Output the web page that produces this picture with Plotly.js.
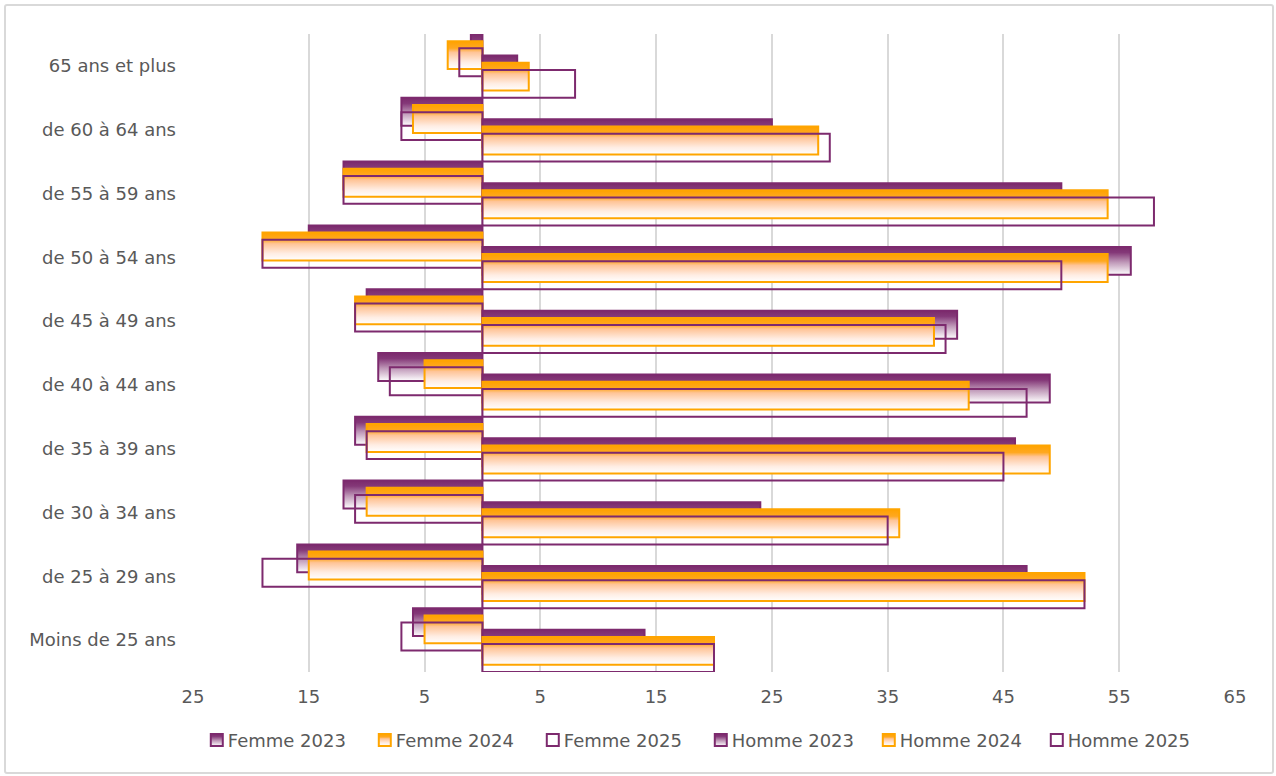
<!DOCTYPE html>
<html>
<head>
<meta charset="utf-8">
<script src="https://cdn.plot.ly/plotly-3.0.1.min.js"></script>
<style>
  html, body { margin: 0; padding: 0; background: #ffffff; }
  #chart { width: 1276px; height: 776px; }
  #frame { position: absolute; left: 4px; top: 4px; width: 1270px; height: 770px;
           box-sizing: border-box; border: 2px solid #d9d9d9; border-radius: 3px; pointer-events: none; }
</style>
</head>
<body>
<div id="chart"></div>
<div id="frame"></div>
<script>
// Age groups, listed from bottom to top of the chart
const categories = [
  'Moins de 25 ans', 'de 25 à 29 ans', 'de 30 à 34 ans', 'de 35 à 39 ans', 'de 40 à 44 ans',
  'de 45 à 49 ans', 'de 50 à 54 ans', 'de 55 à 59 ans', 'de 60 à 64 ans', '65 ans et plus'
];

// Women (drawn to the left), headcounts
const femme2023 = [6, 16, 12, 11, 9, 10, 15, 12, 7, 1];
const femme2024 = [5, 15, 10, 10, 5, 11, 19, 12, 6, 3];
const femme2025 = [7, 19, 11, 10, 8, 11, 19, 12, 7, 2];

// Men (drawn to the right), headcounts
const homme2023 = [14, 47, 24, 46, 49, 41, 56, 50, 25, 3];
const homme2024 = [20, 52, 36, 49, 42, 39, 54, 54, 29, 4];
const homme2025 = [20, 52, 35, 45, 47, 40, 50, 58, 30, 8];

const tickValues = [-25, -15, -5, 5, 15, 25, 35, 45, 55, 65];
const tickLabels = tickValues.map(v => String(Math.abs(v)));

const PURPLE = '#7D2A6E';
const ORANGE = '#FFA500';

const seriesDefs = [
  { name: 'Femme 2023', vals: femme2023, sign: -1, year: '2023' },
  { name: 'Femme 2024', vals: femme2024, sign: -1, year: '2024' },
  { name: 'Femme 2025', vals: femme2025, sign: -1, year: '2025' },
  { name: 'Homme 2023', vals: homme2023, sign: 1, year: '2023' },
  { name: 'Homme 2024', vals: homme2024, sign: 1, year: '2024' },
  { name: 'Homme 2025', vals: homme2025, sign: 1, year: '2025' }
];

const styleByYear = {
  '2023': { fill: PURPLE, line: PURPLE },
  '2024': { fill: ORANGE, line: ORANGE },
  '2025': { fill: 'rgba(255,255,255,0)', line: PURPLE }
};

const BAR_W = 28 / 64;
const data = seriesDefs.map((s, i) => ({
  type: 'bar',
  orientation: 'h',
  name: s.name,
  y: categories,
  x: s.vals.map(v => s.sign * v),
  width: BAR_W,
  offset: (4 - 7.2 * i) / 64,
  marker: { color: styleByYear[s.year].fill, line: { color: styleByYear[s.year].line, width: 2 } },
  meta: s.year,
  hoverinfo: 'name+y'
}));

const FONT = 'DejaVu Sans, Verdana, sans-serif';
const layout = {
  width: 1276,
  height: 776,
  margin: { l: 193, r: 41, t: 34, b: 104 },
  paper_bgcolor: '#ffffff',
  plot_bgcolor: '#ffffff',
  barmode: 'overlay',
  font: { family: FONT, size: 18, color: '#595959' },
  xaxis: {
    range: [-25, 65],
    tickmode: 'array',
    tickvals: tickValues,
    ticktext: tickLabels,
    showgrid: true,
    gridcolor: '#d9d9d9',
    gridwidth: 2,
    zeroline: true,
    zerolinecolor: '#d9d9d9',
    zerolinewidth: 2,
    showline: false,
    ticks: '',
    ticklabelstandoff: 12,
    tickfont: { family: FONT, size: 18, color: '#595959' }
  },
  yaxis: {
    type: 'category',
    categoryorder: 'array',
    categoryarray: categories,
    showgrid: false,
    zeroline: false,
    showline: false,
    ticks: '',
    ticklabelstandoff: 16,
    tickfont: { family: FONT, size: 18, color: '#595959' }
  },
  showlegend: true,
  legend: {
    orientation: 'h',
    x: -0.005,
    xanchor: 'left',
    y: -0.107,
    yanchor: 'middle',
    entrywidthmode: 'pixels',
    entrywidth: 123,
    font: { family: FONT, size: 18, color: '#595959' },
    bgcolor: 'rgba(0,0,0,0)',
    traceorder: 'normal'
  }
};

const gd = document.getElementById('chart');
Plotly.newPlot(gd, data, layout, { displayModeBar: false, staticPlot: true }).then(() => {
  const NS = 'http://www.w3.org/2000/svg';
  const svg = gd.querySelector('svg.main-svg');
  let defs = svg.querySelector('defs');
  if (!defs) { defs = document.createElementNS(NS, 'defs'); svg.insertBefore(defs, svg.firstChild); }
  function addGrad(id, stops) {
    const g = document.createElementNS(NS, 'linearGradient');
    g.setAttribute('id', id);
    g.setAttribute('x1', '0'); g.setAttribute('y1', '0');
    g.setAttribute('x2', '0'); g.setAttribute('y2', '1');
    stops.forEach(([off, col]) => {
      const st = document.createElementNS(NS, 'stop');
      st.setAttribute('offset', off);
      st.setAttribute('stop-color', col);
      g.appendChild(st);
    });
    defs.appendChild(g);
  }
  addGrad('grad2023', [['0', '#7B2A6C'], ['0.2', '#843878'], ['0.55', '#BF98B8'], ['1', '#FFFFFF']]);
  addGrad('grad2024', [['0', '#FFA200'], ['0.25', '#FFA820'], ['0.4', '#FFC497'], ['0.75', '#FFEDE3'], ['1', '#FFFFFF']]);
  const gradFor = { '2023': 'url(#grad2023)', '2024': 'url(#grad2024)' };

  function traceOf(el) {
    const d = el.__data__;
    if (!d) return null;
    if (d[0] && d[0].trace) return d[0].trace;
    if (d[0] && d[0][0] && d[0][0].trace) return d[0][0].trace;
    return null;
  }
  gd.querySelectorAll('.barlayer .trace').forEach(el => {
    const tr = traceOf(el);
    if (!tr || !gradFor[tr.meta]) return;
    el.querySelectorAll('path').forEach(p => { p.style.fill = gradFor[tr.meta]; });
  });
  gd.querySelectorAll('.legend .traces').forEach(el => {
    const tr = traceOf(el);
    const pts = el.querySelector('.legendpoints');
    if (pts) {
      const t0 = pts.getAttribute('transform') || '';
      pts.setAttribute('transform', (t0 + ' translate(9,0)').trim());
    }
    if (!tr || !gradFor[tr.meta]) return;
    el.querySelectorAll('.legendpoints path').forEach(p => { p.style.fill = gradFor[tr.meta]; });
  });
});
</script>
</body>
</html>
